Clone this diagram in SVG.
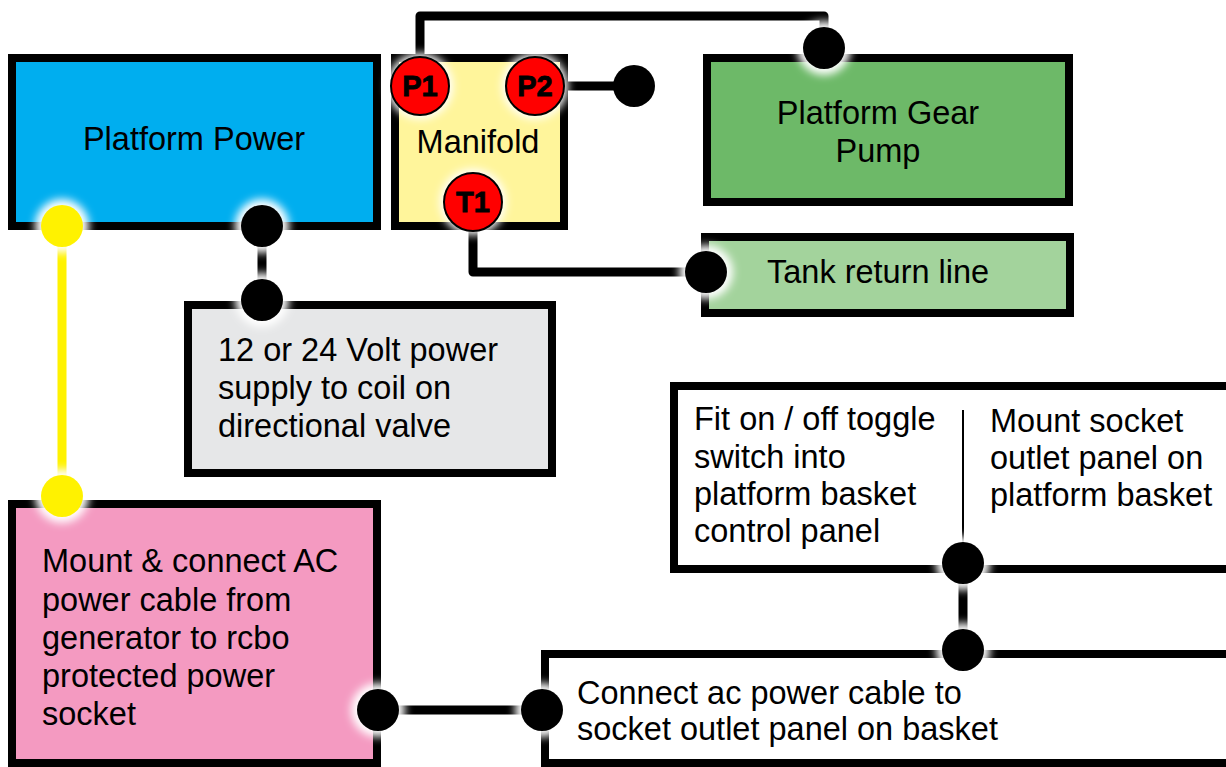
<svg xmlns="http://www.w3.org/2000/svg" width="1226" height="767" viewBox="0 0 1226 767">
<defs>
<filter id="glow" x="-50%" y="-50%" width="200%" height="200%">
<feGaussianBlur stdDeviation="4"/>
</filter>
<style>
.box{stroke:#000;stroke-width:8}
.t{font-family:"Liberation Sans",Arial,sans-serif;font-size:32.5px;fill:#000}
.lbl{font-family:"Liberation Sans",Arial,sans-serif;font-size:29px;font-weight:bold;fill:#000;stroke:#000;stroke-width:0.8;text-anchor:middle}
.wire{fill:none;stroke:#000;stroke-width:9;stroke-linejoin:round}
.halo{fill:#fff;filter:url(#glow)}
.dot{fill:#000}
.port{fill:#f00;stroke:#000;stroke-width:2}
</style>
</defs>
<rect width="1226" height="767" fill="#fff"/>

<g id="platform-power">
<rect class="box" x="12" y="58" width="365" height="168" fill="#00AEEF"/>
<text class="t" x="194" y="150" text-anchor="middle">Platform Power</text>
</g>

<g id="manifold">
<rect class="box" x="395" y="58" width="169" height="168" fill="#FFF59B"/>
<text class="t" x="478" y="153" text-anchor="middle">Manifold</text>
</g>

<g id="gear-pump">
<rect class="box" x="707" y="58" width="362" height="144" fill="#6DB968"/>
<text class="t" x="878" y="124" text-anchor="middle">Platform Gear</text>
<text class="t" x="878" y="162" text-anchor="middle">Pump</text>
</g>

<g id="tank-return">
<rect class="box" x="705" y="237" width="365" height="76" fill="#A3D39C"/>
<text class="t" x="767" y="283">Tank return line</text>
</g>

<g id="coil-supply">
<rect class="box" x="188" y="305" width="364" height="168" fill="#E6E7E8"/>
<text class="t" x="218" y="361">12 or 24 Volt power</text>
<text class="t" x="218" y="399">supply to coil on</text>
<text class="t" x="218" y="437">directional valve</text>
</g>

<g id="basket-panels">
<rect class="box" x="674" y="386" width="600" height="183" fill="#fff"/>
<line x1="963" y1="410" x2="963" y2="563" stroke="#000" stroke-width="2"/>
<text class="t" x="694" y="430">Fit on / off toggle</text>
<text class="t" x="694" y="468">switch into</text>
<text class="t" x="694" y="505">platform basket</text>
<text class="t" x="694" y="542">control panel</text>
<text class="t" x="990" y="432">Mount socket</text>
<text class="t" x="990" y="469">outlet panel on</text>
<text class="t" x="990" y="506">platform basket</text>
</g>

<g id="ac-cable">
<rect class="box" x="12" y="504" width="365" height="259" fill="#F49AC1"/>
<text class="t" x="42" y="572">Mount &amp; connect AC</text>
<text class="t" x="42" y="611">power cable from</text>
<text class="t" x="42" y="649">generator to rcbo</text>
<text class="t" x="42" y="687">protected power</text>
<text class="t" x="42" y="725">socket</text>
</g>

<g id="socket-connect">
<rect class="box" x="545" y="654" width="700" height="109" fill="#fff"/>
<text class="t" x="577" y="704">Connect ac power cable to</text>
<text class="t" x="577" y="740">socket outlet panel on basket</text>
</g>

<g id="connectors">
<path class="wire" d="M420 60 V16 H824 V48"/>
<path class="wire" d="M535 86 H634"/>
<path class="wire" d="M473 202 V272 H706"/>
<path class="wire" d="M262 226 V300"/>
<path class="wire" d="M963 563 V650"/>
<path class="wire" d="M378 710 H542"/>
<line x1="62" y1="226" x2="62" y2="496" stroke="#FFF200" stroke-width="9"/>
<circle class="halo" cx="62" cy="226" r="27"/>
<circle class="halo" cx="262" cy="226" r="27"/>
<circle class="halo" cx="262" cy="300" r="27"/>
<circle class="halo" cx="824" cy="48" r="27"/>
<circle class="halo" cx="706" cy="272" r="27"/>
<circle class="halo" cx="963" cy="563" r="27"/>
<circle class="halo" cx="963" cy="650" r="27"/>
<circle class="halo" cx="378" cy="710" r="27"/>
<circle class="halo" cx="542" cy="710" r="27"/>
<circle class="halo" cx="62" cy="496" r="27"/>
<circle class="halo" cx="420" cy="86" r="33"/>
<circle class="halo" cx="535" cy="86" r="33"/>
<circle class="halo" cx="473" cy="202" r="33"/>
<circle cx="62" cy="226" r="21" fill="#FFF200"/>
<circle cx="62" cy="496" r="21" fill="#FFF200"/>
<circle class="dot" cx="262" cy="226" r="21"/>
<circle class="dot" cx="262" cy="300" r="21"/>
<circle class="dot" cx="824" cy="48" r="21"/>
<circle class="dot" cx="634" cy="86" r="21"/>
<circle class="dot" cx="706" cy="272" r="21"/>
<circle class="dot" cx="963" cy="563" r="21"/>
<circle class="dot" cx="963" cy="650" r="21"/>
<circle class="dot" cx="378" cy="710" r="21"/>
<circle class="dot" cx="542" cy="710" r="21"/>
</g>

<g id="ports">
<circle class="port" cx="420" cy="86" r="29"/>
<text class="lbl" x="420" y="96">P1</text>
<circle class="port" cx="535" cy="86" r="29"/>
<text class="lbl" x="535" y="96">P2</text>
<circle class="port" cx="473" cy="202" r="29"/>
<text class="lbl" x="473" y="212">T1</text>
</g>
</svg>
